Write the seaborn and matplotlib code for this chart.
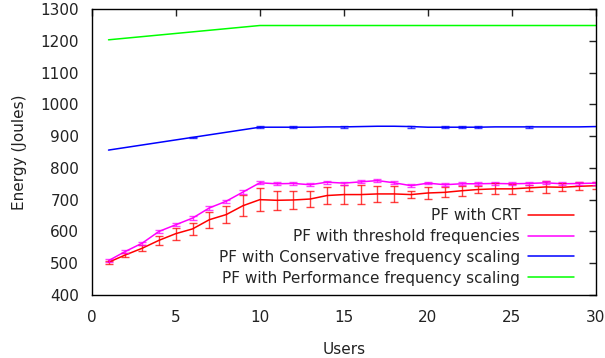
import numpy as np
import pandas as pd
import matplotlib
matplotlib.use("Agg")
import matplotlib.pyplot as plt
import seaborn as sns

users = list(range(1, 31))

crt = [503, 526, 547, 572, 593, 608, 637, 653, 681, 700, 698, 699, 702, 713, 716,
       716, 718, 718, 716, 721, 723, 728, 732, 734, 734, 737, 740, 739, 742, 744]
crt_err = [5, 7, 10, 15, 19, 19, 25, 26, 34, 37, 29, 27, 25, 27, 29,
           29, 26, 25, 12, 18, 16, 16, 11, 17, 16, 10, 18, 13, 12, 10]

thr = [508, 537, 563, 600, 621, 642, 674, 695, 724, 753, 750, 751, 747, 755, 752,
       756, 760, 753, 744, 752, 747, 750, 750, 751, 750, 751, 753, 750, 751, 752]
thr_err = [4, 5, 5, 5, 5, 5, 5, 5, 5, 5, 5, 5, 5, 5, 5,
           5, 5, 5, 5, 4, 5, 5, 5, 5, 5, 5, 5, 5, 5, 5]

cons = [856, 864, 872, 880, 888, 896, 904, 912, 920, 928, 928, 928, 928, 929, 929,
        930, 931, 931, 930, 928, 928, 928, 928, 929, 929, 929, 929, 929, 929, 930]
cons_err = [0, 0, 0, 0, 0, 1, 0, 0, 0, 3, 0, 3, 0, 0, 3,
            0, 0, 0, 3, 0, 3, 3, 3, 0, 0, 3, 0, 0, 0, 0]

perf = [1203, 1208, 1213, 1218, 1223, 1228, 1233, 1238, 1243, 1248, 1248, 1248, 1248, 1248, 1248,
        1248, 1248, 1248, 1248, 1248, 1248, 1248, 1248, 1248, 1248, 1248, 1248, 1248, 1248, 1248]
perf_err = [0] * 30

labels = ["PF with CRT", "PF with threshold frequencies",
          "PF with Conservative frequency scaling", "PF with Performance frequency scaling"]
colors = ["#ff0000", "#ff00ff", "#0000ff", "#00ff00"]

xticks = [0, 5, 10, 15, 20, 25, 30]
yticks = [400, 500, 600, 700, 800, 900, 1000, 1100, 1200, 1300]

sns.set_theme(style="white")
plt.rcParams['font.family'] = ['DejaVu Sans']

fig = plt.figure(figsize=(6.05, 3.58), dpi=100)
ax = fig.add_axes([0.1516, 0.176, 0.8335, 0.7989])

series = [(crt, crt_err), (thr, thr_err), (cons, cons_err), (perf, perf_err)]
frames = []
for (vals, errs), lab in zip(series, labels):
    frames.append(pd.DataFrame({"Users": users, "Energy": vals, "err": errs, "series": lab}))
df = pd.concat(frames, ignore_index=True)

sns.lineplot(data=df, x="Users", y="Energy", hue="series", hue_order=labels,
             palette=colors, linewidth=1.1, ax=ax, errorbar=None)

for lab, col in zip(labels, colors):
    sub = df[(df["series"] == lab) & (df["err"] > 0)]
    if len(sub):
        ax.errorbar(sub["Users"], sub["Energy"], yerr=sub["err"], fmt="none",
                    ecolor=col, elinewidth=1.0, capsize=3, capthick=1.0, alpha=0.75)

fs = 11
ax.set_xlim(0, 30)
ax.set_ylim(400, 1300)
ax.set_xticks(xticks)
ax.set_yticks(yticks)
ax.set_xlabel("Users", fontsize=fs, color="#222222", labelpad=12)
ax.set_ylabel("Energy (Joules)", fontsize=fs, color="#222222", labelpad=10)
ax.tick_params(direction="in", length=5, width=1, top=True, right=True,
               labelsize=fs, colors="#222222", pad=11)
ax.tick_params(axis="y", pad=9)
for s in ax.spines.values():
    s.set_color("black")
    s.set_linewidth(1.0)

ax.legend(loc="lower right", bbox_to_anchor=(0.98, -0.01), frameon=False,
          markerfirst=False, fontsize=fs, handlelength=3.0, handletextpad=0.5,
          labelspacing=0.38, borderpad=0.3)

fig.savefig("out.png", dpi=100)
